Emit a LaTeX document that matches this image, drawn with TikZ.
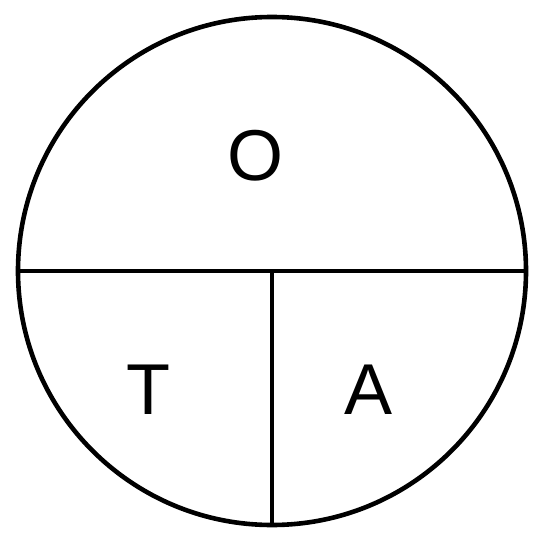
\documentclass[tikz,border=0pt]{standalone}
\usepackage{fontspec}
\setmainfont{Liberation Sans}
\begin{document}
\begin{tikzpicture}[x=1pt,y=-1pt,
  edge/.style={line width=4.6pt,black},
  lbl/.style={font=\fontsize{72}{80}\selectfont,inner sep=0pt}]
\useasboundingbox (0,0) rectangle (540,540);
\coordinate (c) at (272,271);
\draw[edge] (c) circle[radius=254];
\coordinate (l) at (18,271);
\coordinate (r) at (526,271);
\coordinate (b) at (272,525);
\draw[edge] (l) -- (r);
\draw[edge] (c) -- (b);
\node[lbl] (o) at (255,156) {O};
\node[lbl] (t) at (148,390) {T};
\node[lbl] (a) at (369,390) {A};
\end{tikzpicture}
\end{document}
